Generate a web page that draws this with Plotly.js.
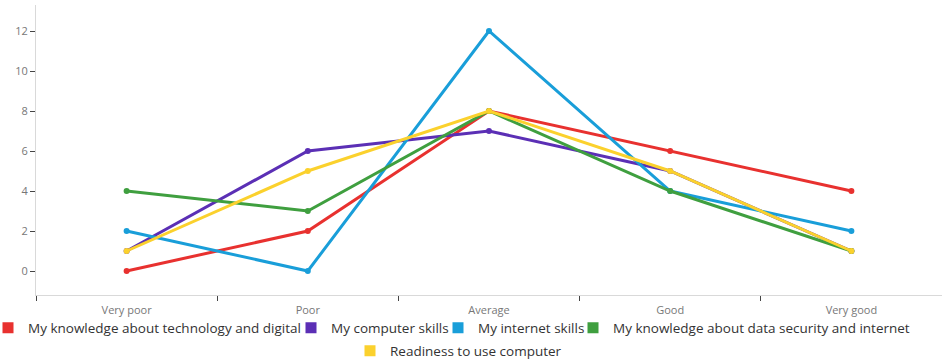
<!DOCTYPE html>
<html>
<head>
<meta charset="utf-8">
<script src="https://cdn.plot.ly/plotly-3.0.1.min.js"></script>
<style>html,body{margin:0;padding:0;background:#fff;}#chart{width:942px;height:359px;}</style>
</head>
<body>
<div id="chart"></div>
<script>
var categories = ["Very poor", "Poor", "Average", "Good", "Very good"];
var seriesNames = [
  "My knowledge about technology and digital",
  "My computer skills",
  "My internet skills",
  "My knowledge about data security and internet",
  "Readiness to use computer"
];
var knowledgeTech = [0, 2, 8, 6, 4];
var computerSkills = [1, 6, 7, 5, 1];
var internetSkills = [2, 0, 12, 4, 2];
var dataSecurity = [4, 3, 8, 4, 1];
var readiness = [1, 5, 8, 5, 1];
var yTicks = [0, 2, 4, 6, 8, 10, 12];

var seriesValues = [knowledgeTech, computerSkills, internetSkills, dataSecurity, readiness];
var colors = ["#e8312f", "#5b2fb5", "#199ed9", "#3f9f3f", "#fbd12d"];

// legend placement (text start x in px, row centre y in px)
var legendTextX = [28, 331, 478, 613, 390];
var legendRowY = [328, 328, 328, 328, 351];

var plotL = 36, plotW = 906, plotB = 295, plotH = 290;

var traces = [];
seriesValues.forEach(function (vals, i) {
  traces.push({
    x: categories, y: vals, type: "scatter", mode: "lines+markers",
    name: seriesNames[i], showlegend: false,
    line: {color: colors[i], width: 3},
    marker: {color: colors[i], size: 6},
    hoverinfo: "x+y+name"
  });
});
var legendIds = ["legend", "legend2", "legend3", "legend4", "legend5"];
seriesValues.forEach(function (vals, i) {
  traces.push({
    x: [null], y: [null], type: "scatter", mode: "markers",
    name: seriesNames[i], showlegend: true, legend: legendIds[i],
    marker: {color: colors[i], size: 11, symbol: "square"}
  });
});

var layout = {
  width: 942, height: 359,
  margin: {l: plotL, r: 0, t: 5, b: 64, autoexpand: false},
  paper_bgcolor: "#fff", plot_bgcolor: "#fff",
  font: {family: "Open Sans, sans-serif", color: "#333"},
  showlegend: true,
  xaxis: {
    type: "category", range: [-0.5, 4.5],
    showgrid: false, zeroline: false,
    showline: true, linecolor: "#d9d9d9", linewidth: 1,
    ticks: "outside", tickson: "boundaries", ticklen: 5, tickcolor: "#444", tickwidth: 1,
    ticklabelstandoff: 5,
    tickfont: {size: 11, color: "#777"}
  },
  yaxis: {
    range: [-1.2, 13.3], tickvals: yTicks,
    showgrid: false, zeroline: false,
    showline: true, linecolor: "#d9d9d9", linewidth: 1,
    ticks: "outside", ticklen: 5, tickcolor: "#444", tickwidth: 1,
    tickfont: {size: 11, color: "#777"}
  }
};
legendIds.forEach(function (id, i) {
  layout[id] = {
    orientation: "h",
    x: (legendTextX[i] - 40 - plotL) / plotW, xanchor: "left",
    y: (plotB - legendRowY[i]) / plotH, yanchor: "middle",
    font: {size: 13.5, color: "#333"}, itemwidth: 30,
    bgcolor: "rgba(0,0,0,0)", borderwidth: 0
  };
});

Plotly.newPlot("chart", traces, layout, {displayModeBar: false, staticPlot: true});
</script>
</body>
</html>
